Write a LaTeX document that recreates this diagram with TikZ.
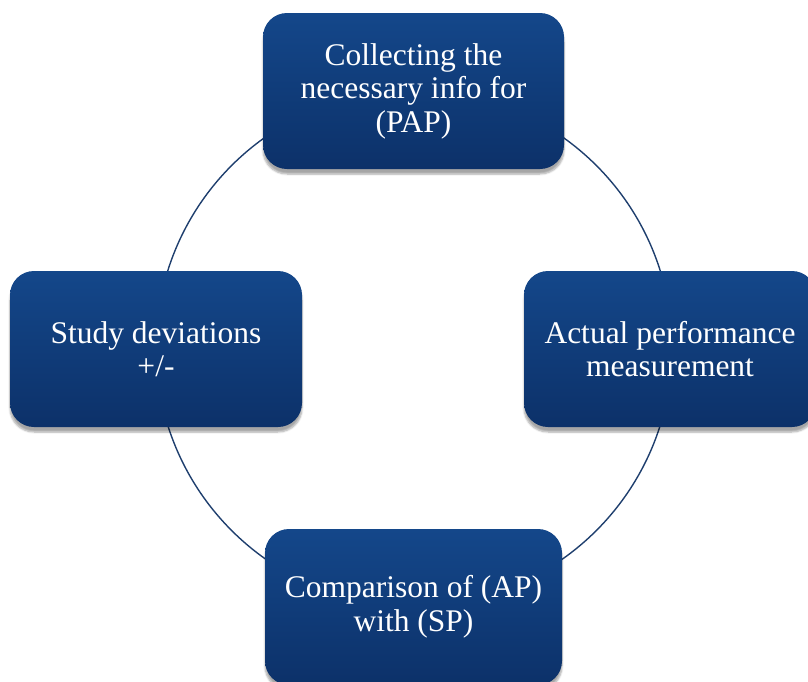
\documentclass[tikz,border=0pt]{standalone}
\usepackage{fontspec}
\setmainfont{Liberation Serif}
\usetikzlibrary{shadows.blur}
\definecolor{boxtop}{HTML}{14478A}
\definecolor{boxbot}{HTML}{0C3169}
\definecolor{ringcol}{HTML}{1F3F6E}
\begin{document}
\begin{tikzpicture}[x=1pt,y=-1pt,
  stagebox/.style={rectangle, rounded corners=24pt, minimum width=#1, minimum height=156pt,
    top color=boxtop, bottom color=boxbot, draw=none, text=white,
    font=\fontsize{31.5}{33.5}\selectfont, align=center, inner sep=2pt,
    blur shadow={shadow xshift=0pt, shadow yshift=-5pt, shadow blur steps=6, shadow opacity=35}},
  stagebox/.default=301pt,
  ring/.style={draw=ringcol, line width=1.4pt}]
\useasboundingbox (0,0) rectangle (808,681);
\coordinate (hub) at (414,348);
\draw[ring] (hub) circle[radius=258pt];
\node[stagebox] (collect) at (413.5,91) {Collecting the\\necessary info for\\(PAP)};
\node[stagebox=292pt] (study) at (156,349) {Study deviations\\+/-};
\node[stagebox=292pt] (actual) at (670,349) {Actual performance\\measurement};
\node[stagebox=297pt] (compare) at (413.5,607) {Comparison of (AP)\\with (SP)};
\end{tikzpicture}
\end{document}
